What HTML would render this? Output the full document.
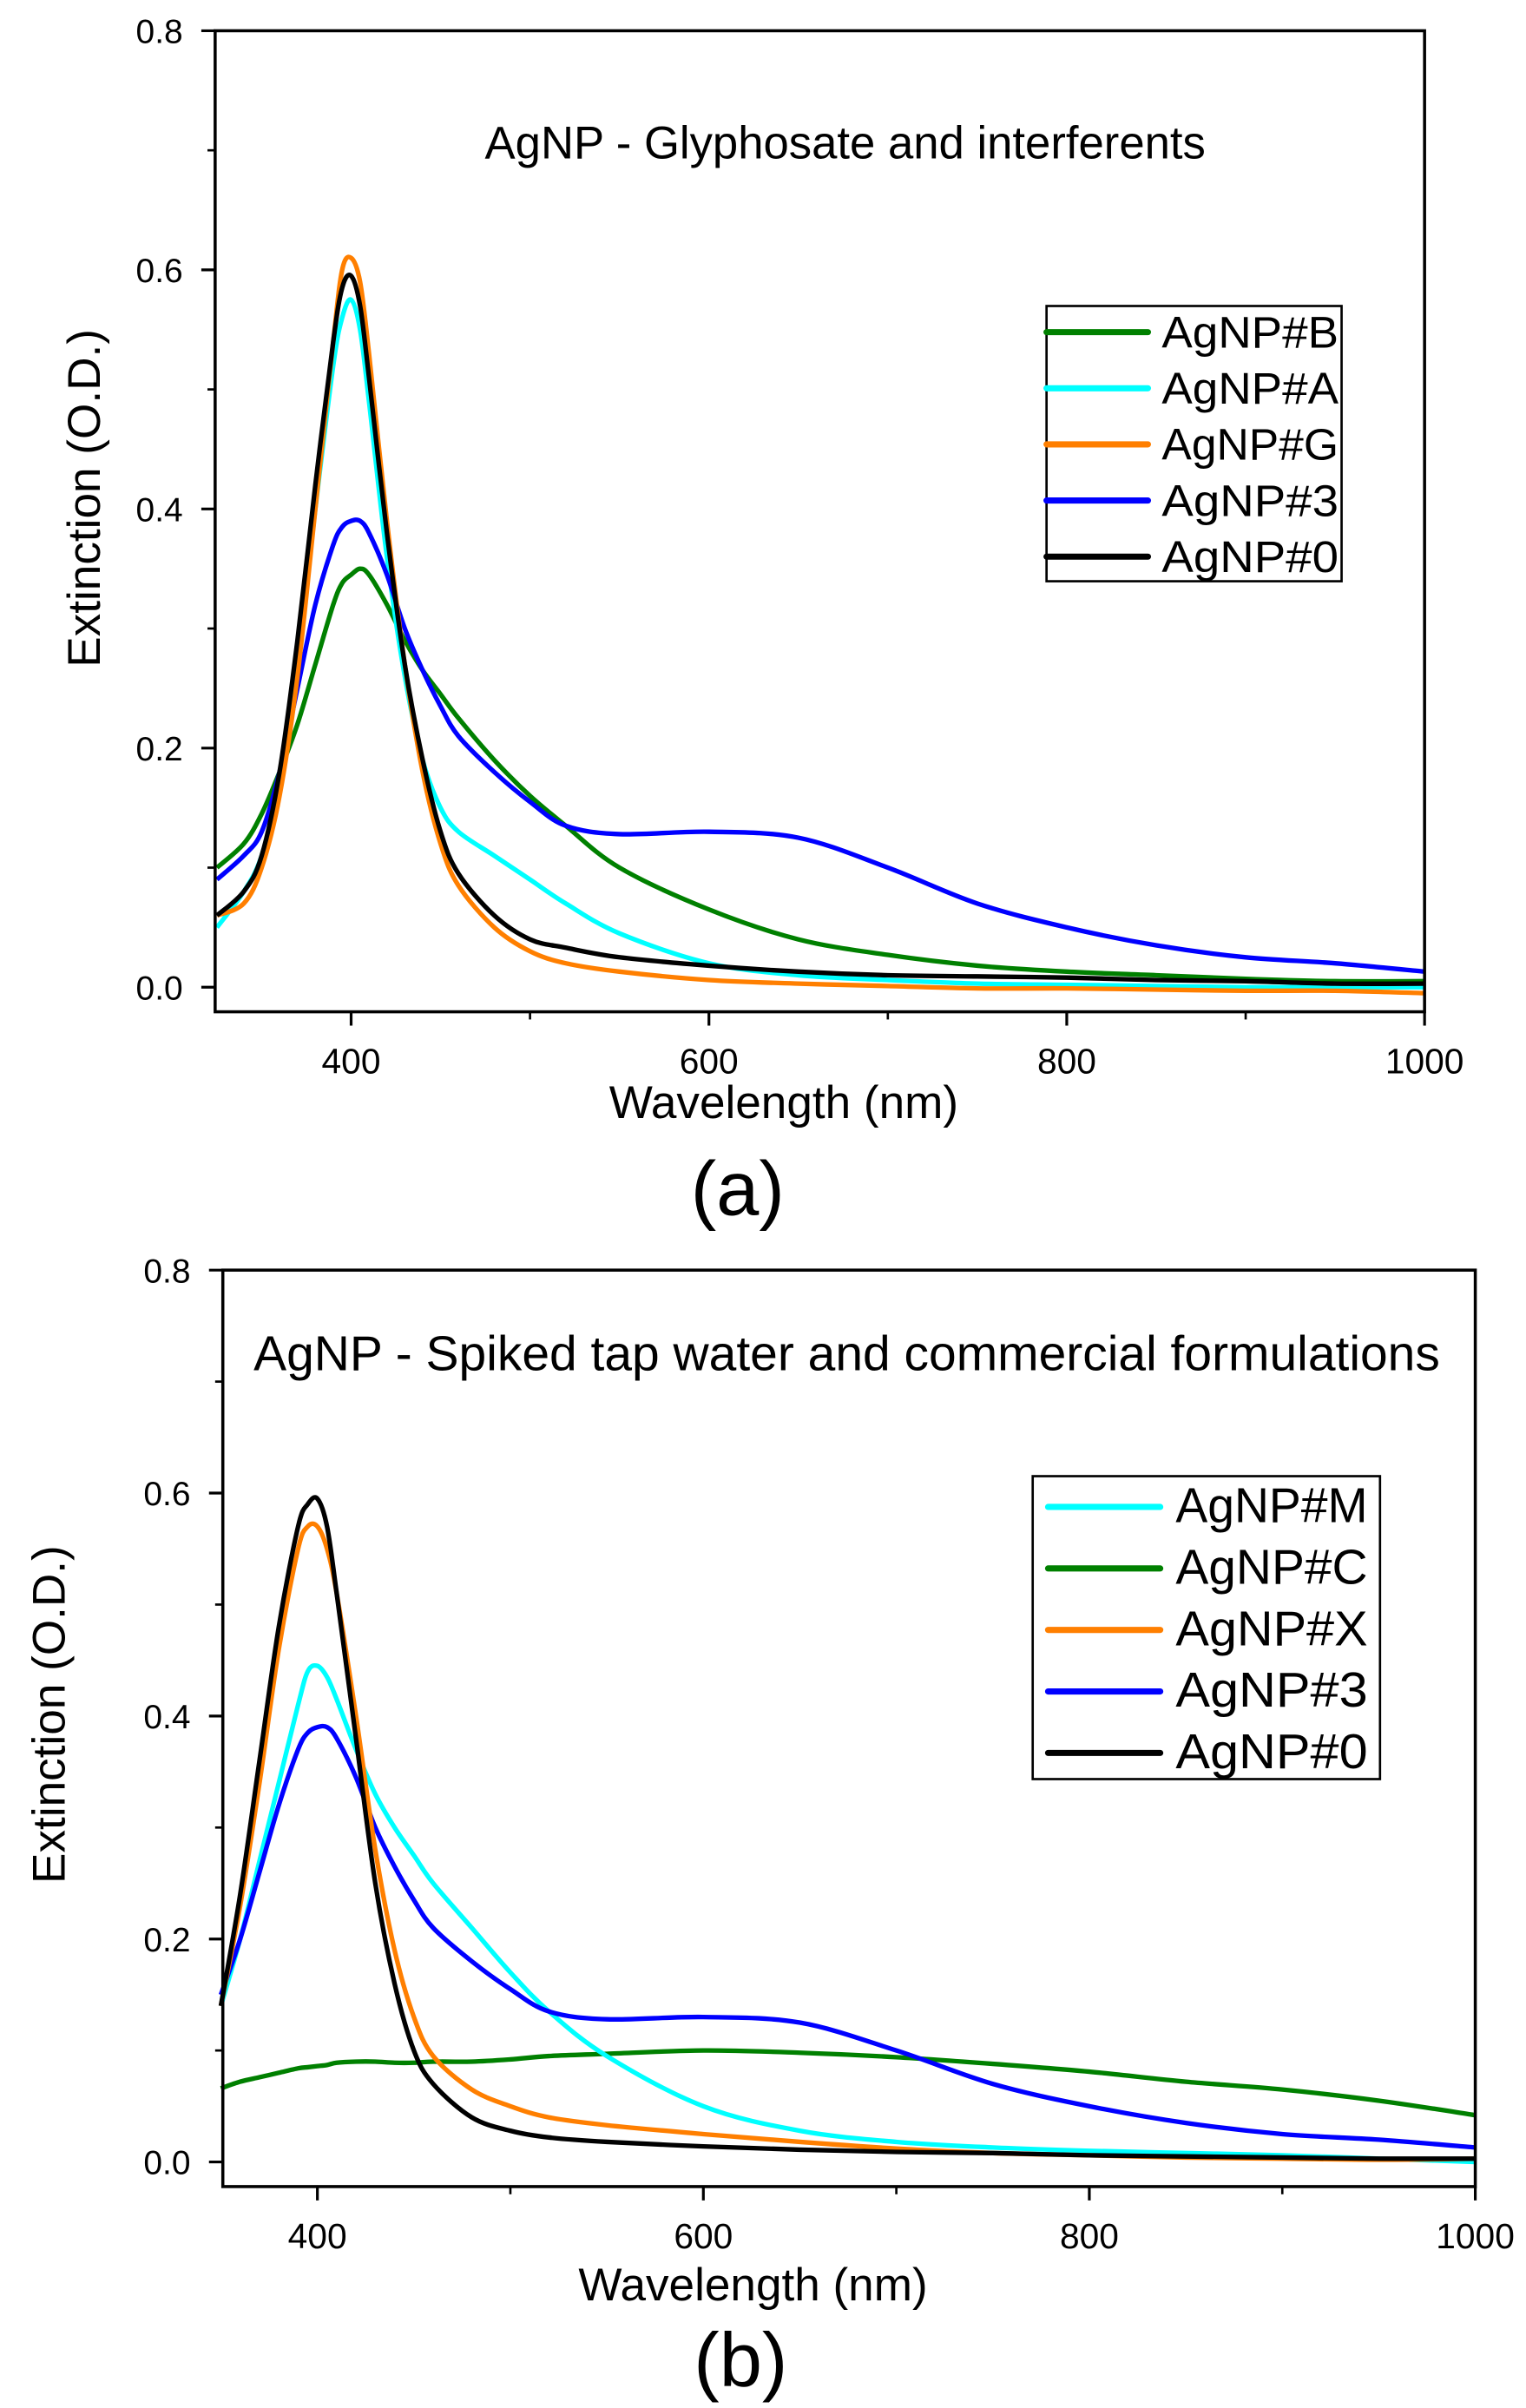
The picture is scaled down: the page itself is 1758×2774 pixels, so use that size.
<!DOCTYPE html>
<html><head><meta charset="utf-8"><style>
html,body{margin:0;padding:0;background:#fff}
svg{display:block}
text{font-family:"Liberation Sans",Arial,sans-serif;fill:#000}
</style></head><body>
<svg id="chart" width="1758" height="2774" viewBox="0 0 993 1566" preserveAspectRatio="none" xmlns="http://www.w3.org/2000/svg"></svg>
<script>
// ---- Panel (a) data ----
const wlA = [325,340,350,360,370,380,390,395,400,405,410,420,430,440,450,460,480,500,520,550,600,650,700,750,800,850,900,950,1000];
const aB  = [0.10,0.12,0.145,0.18,0.22,0.27,0.32,0.338,0.345,0.35,0.345,0.32,0.29,0.265,0.245,0.225,0.19,0.16,0.135,0.10,0.065,0.04,0.027,0.018,0.013,0.010,0.007,0.005,0.005];
const aA  = [0.05,0.08,0.11,0.17,0.27,0.40,0.52,0.56,0.575,0.55,0.49,0.36,0.26,0.19,0.15,0.13,0.11,0.09,0.07,0.045,0.02,0.01,0.006,0.003,0.002,0.001,0.0,0.0,0.0];
const aG  = [0.06,0.07,0.10,0.16,0.26,0.40,0.54,0.60,0.61,0.59,0.53,0.39,0.27,0.18,0.12,0.085,0.05,0.03,0.02,0.013,0.006,0.003,0.001,-0.001,-0.001,-0.002,-0.003,-0.003,-0.005];
const a3  = [0.09,0.11,0.13,0.18,0.25,0.32,0.37,0.385,0.39,0.39,0.38,0.345,0.30,0.265,0.235,0.21,0.18,0.155,0.135,0.128,0.13,0.125,0.10,0.07,0.05,0.035,0.025,0.02,0.013];
const a0  = [0.06,0.08,0.11,0.18,0.29,0.42,0.54,0.585,0.595,0.57,0.51,0.38,0.27,0.19,0.13,0.095,0.06,0.04,0.033,0.025,0.018,0.013,0.01,0.009,0.008,0.006,0.005,0.003,0.003];
// ---- Panel (b) data ----
const wlB = [350,360,370,380,390,395,400,405,410,420,430,440,450,460,480,500,520,550,600,650,700,750,800,850,900,950,1000];
const bM  = [0.14,0.20,0.27,0.34,0.41,0.44,0.445,0.435,0.415,0.37,0.33,0.30,0.275,0.25,0.21,0.17,0.135,0.095,0.05,0.028,0.018,0.013,0.01,0.008,0.006,0.003,0.0];
const bC  = [0.066,0.072,0.076,0.08,0.084,0.085,0.086,0.087,0.089,0.09,0.09,0.089,0.089,0.09,0.09,0.092,0.095,0.097,0.1,0.098,0.094,0.088,0.081,0.072,0.065,0.055,0.042];
const bX  = [0.14,0.23,0.34,0.46,0.55,0.57,0.57,0.55,0.51,0.40,0.28,0.19,0.13,0.095,0.065,0.05,0.04,0.033,0.025,0.018,0.012,0.008,0.006,0.004,0.003,0.002,0.003];
const b3  = [0.15,0.20,0.26,0.32,0.37,0.385,0.39,0.39,0.38,0.345,0.30,0.265,0.235,0.21,0.18,0.155,0.135,0.128,0.13,0.125,0.10,0.07,0.05,0.035,0.025,0.02,0.013];
const b0  = [0.14,0.24,0.36,0.48,0.57,0.59,0.595,0.57,0.51,0.38,0.25,0.16,0.10,0.07,0.04,0.028,0.022,0.018,0.014,0.011,0.009,0.008,0.006,0.005,0.004,0.003,0.003];
const xTicks = [400,600,800,1000];
const xMinor = [500,700,900];
const yTicks = [0.0,0.2,0.4,0.6,0.8];
const yMinor = [0.1,0.3,0.5,0.7];

const NS="http://www.w3.org/2000/svg";
const svg=document.getElementById('chart');
function mk(tag,attrs,parent,txt){const e=document.createElementNS(NS,tag);for(const k in attrs)e.setAttribute(k,attrs[k]);if(txt!==undefined)e.textContent=txt;(parent||svg).appendChild(e);return e;}

function smoothPath(pts){
  let d='M'+pts[0][0].toFixed(2)+','+pts[0][1].toFixed(2);
  for(let i=0;i<pts.length-1;i++){
    const p0=pts[Math.max(0,i-1)],p1=pts[i],p2=pts[i+1],p3=pts[Math.min(pts.length-1,i+2)];
    const c1x=p1[0]+(p2[0]-p0[0])/6,c1y=p1[1]+(p2[1]-p0[1])/6;
    const c2x=p2[0]-(p3[0]-p1[0])/6,c2y=p2[1]-(p3[1]-p1[1])/6;
    d+='C'+c1x.toFixed(2)+','+c1y.toFixed(2)+' '+c2x.toFixed(2)+','+c2y.toFixed(2)+' '+p2[0].toFixed(2)+','+p2[1].toFixed(2);
  }
  return d;
}

function panel(cfg){
  const g=mk('g',{});
  
  
  const xs=v=>cfg.L+(v-cfg.xmin)/(1000-cfg.xmin)*(cfg.R-cfg.L);
  const ys=v=>cfg.y0+(cfg.y8-cfg.y0)*v/0.8;
  cfg.series.forEach(s=>{
    const pts=cfg.wl.map((w,i)=>[xs(w),ys(s.vals[i])]);
    const p=mk('path',{d:smoothPath(pts),fill:'none',stroke:s.color,'stroke-width':3,'stroke-linejoin':'round'},g);
    
    
  });
  const fr=mk('rect',{x:cfg.L,y:cfg.y8,width:cfg.R-cfg.L,height:cfg.B-cfg.y8,fill:'none',stroke:'#000','stroke-width':2},g);
  
  
  yTicks.forEach(v=>{
    mk('line',{x1:cfg.L-9,x2:cfg.L,y1:ys(v),y2:ys(v),stroke:'#000','stroke-width':1.8},g);
    const t=mk('text',{x:cfg.L-21,y:ys(v)+8,'text-anchor':'end','font-size':22},g,v.toFixed(1));
    
    
  });
  yMinor.forEach(v=>mk('line',{x1:cfg.L-5,x2:cfg.L,y1:ys(v),y2:ys(v),stroke:'#000','stroke-width':1.5},g));
  xTicks.forEach(v=>{
    mk('line',{x1:xs(v),x2:xs(v),y1:cfg.B,y2:cfg.B+9,stroke:'#000','stroke-width':1.8},g);
    const t=mk('text',{x:xs(v),y:cfg.B+40,'text-anchor':'middle','font-size':23},g,String(v));
    
    
  });
  xMinor.forEach(v=>mk('line',{x1:xs(v),x2:xs(v),y1:cfg.B,y2:cfg.B+5,stroke:'#000','stroke-width':1.5},g));
  const tt=mk('text',{x:cfg.titleX,y:cfg.titleY,'text-anchor':cfg.titleAnchor,'font-size':cfg.titleFs,textLength:cfg.titleTl,lengthAdjust:'spacingAndGlyphs'},g,cfg.title);
  
  
  const xl=mk('text',{x:cfg.xlabX,y:cfg.xlabY,'text-anchor':'middle','font-size':30},g,'Wavelength (nm)');
  
  
  const yl=mk('text',{x:0,y:0,'text-anchor':'middle','font-size':30,transform:'translate('+cfg.ylabX+','+cfg.ylabY+') rotate(-90)'},g,'Extinction (O.D.)');
  
  
  const pl=mk('text',{x:cfg.panX,y:cfg.panY,'text-anchor':'middle','font-size':50},g,cfg.panel);
  
  
  const lg=mk('g',{},g);
  
  
  const lb=cfg.leg;
  mk('rect',{x:lb.x,y:lb.y,width:lb.w,height:lb.h,fill:'#fff',stroke:'#000','stroke-width':1.5},lg);
  cfg.legendOrder.forEach((s,i)=>{
    const cy=lb.y+lb.first+i*lb.step;
    const e=mk('g',{},lg);
    
    
    mk('line',{x1:lb.x+lb.lx1,x2:lb.x+lb.lx2,y1:cy,y2:cy,stroke:s.color,'stroke-width':4,'stroke-linecap':'round'},e);
    mk('text',{x:lb.x+lb.tx,y:cy+10,'font-size':lb.fs,textLength:lb.tl,lengthAdjust:'spacingAndGlyphs'},e,s.label);
  });
}

const sa=[{label:'AgNP#B',color:'#008000',vals:aB},{label:'AgNP#A',color:'#00ffff',vals:aA},{label:'AgNP#G',color:'#ff7f00',vals:aG},{label:'AgNP#3',color:'#0000ff',vals:a3},{label:'AgNP#0',color:'#000000',vals:a0}];
panel({name:'panel-a',wl:wlA,xmin:324,L:140,R:927,y0:642,y8:20,B:658,
  series:[sa[0],sa[1],sa[3],sa[2],sa[4]],legendOrder:sa,
  title:'AgNP - Glyphosate and interferents',titleX:550,titleY:103,titleAnchor:'middle',titleFs:30,titleTl:469,
  xlabX:510,xlabY:727,ylabX:65,ylabY:324,panel:'(a)',panX:480,panY:790,
  leg:{x:681,y:199,w:192,h:179,first:17,step:36.5,lx1:0,lx2:66,tx:75,fs:29,tl:115}});
const sb=[{label:'AgNP#M',color:'#00ffff',vals:bM},{label:'AgNP#C',color:'#008000',vals:bC},{label:'AgNP#X',color:'#ff7f00',vals:bX},{label:'AgNP#3',color:'#0000ff',vals:b3},{label:'AgNP#0',color:'#000000',vals:b0}];
panel({name:'panel-b',wl:wlB,xmin:351,L:145,R:960,y0:1406,y8:826,B:1422,
  series:[sb[1],sb[0],sb[3],sb[2],sb[4]],legendOrder:sb,
  title:'AgNP - Spiked tap water and commercial formulations',titleX:165,titleY:891,titleAnchor:'start',titleFs:32,titleTl:772,
  xlabX:490,xlabY:1496,ylabX:42,ylabY:1115,panel:'(b)',panX:482,panY:1552,
  leg:{x:672,y:960,w:226,h:197,first:20,step:40,lx1:10,lx2:83,tx:93,fs:32,tl:125}});
</script>
</body></html>
